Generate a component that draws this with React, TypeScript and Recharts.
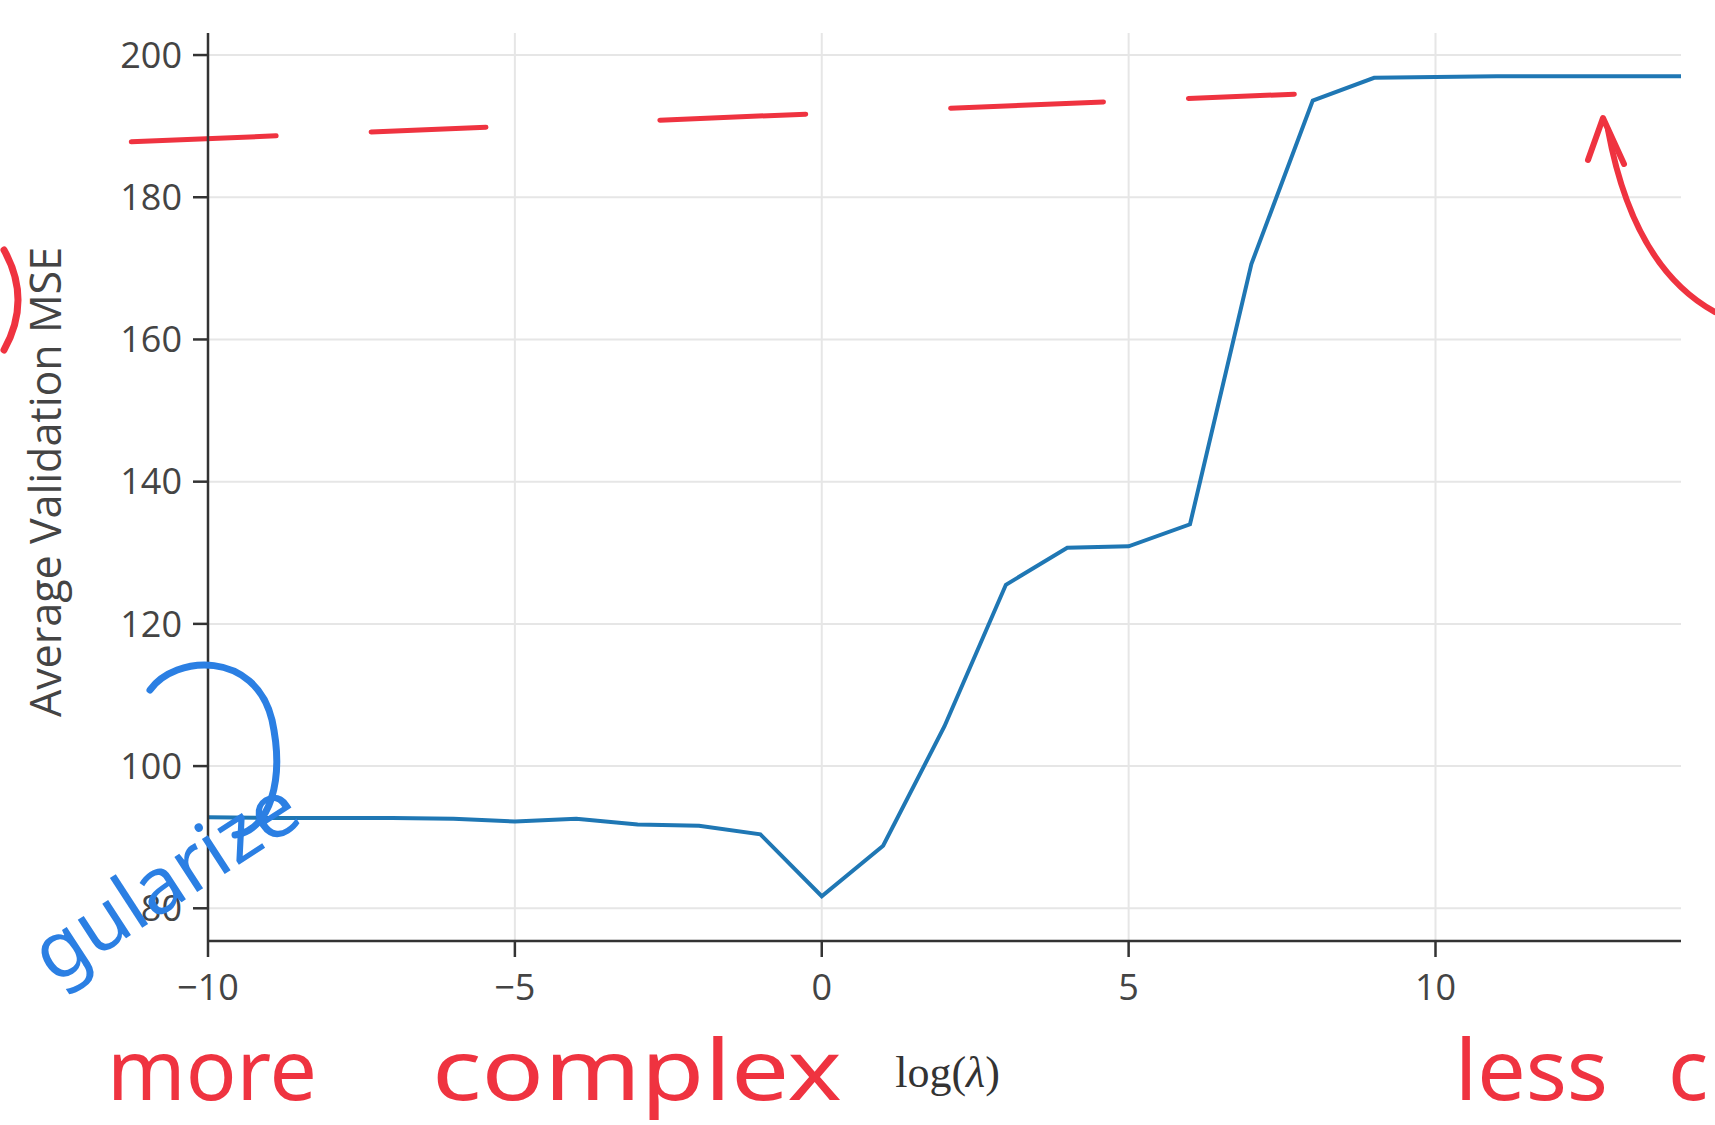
import React from "react";
import { LineChart, Line, XAxis, YAxis, CartesianGrid, ReferenceLine } from "recharts";

// log(lambda) grid used for the ridge sweep
const logLambda = [-10, -9, -8, -7, -6, -5, -4, -3, -2, -1, 0, 1, 2, 3, 4, 5, 6, 7, 8, 9, 10, 11, 12, 13, 14];
const avgValidationMse = [
  92.8, 92.7, 92.7, 92.7, 92.6, 92.2, 92.6, 91.8, 91.6, 90.4, 81.7, 88.8, 105.6,
  125.5, 130.7, 130.9, 134.0, 170.6, 193.6, 196.8, 196.9, 197.0, 197.0, 197.0, 197.0,
];
const xTicks = [-10, -5, 0, 5, 10];
const yTicks = [80, 100, 120, 140, 160, 180, 200];
const xDomain = [-10, 14];
const yDomain = [75.4, 203.1];

// hand-drawn red dashes pointing at the plateau
const plateauGuide = [
  { x: -11.25, y: 187.8 },
  { x: 7.7, y: 194.5 },
];

const data = logLambda.map((x, i) => ({ x, mse: avgValidationMse[i] }));

const tickStyle = { fill: "#444", fontSize: 36, fontFamily: "'Open Sans', sans-serif" };
const minus = (v: number) => String(v).replace("-", "\u2212");

const YTitle = (props: any) => {
  const vb = props.viewBox;
  const cx = vb.x - 14;
  const cy = vb.y + vb.height / 2 - 5;
  return (
    <text
      x={cx}
      y={cy}
      transform={`rotate(-90, ${cx}, ${cy})`}
      textAnchor="middle"
      dominantBaseline="central"
      fill="#444"
      fontSize={43}
      fontFamily="'Open Sans', sans-serif"
    >
      Average Validation MSE
    </text>
  );
};

const XTitle = (props: any) => {
  const vb = props.viewBox;
  return (
    <text
      x={vb.x + vb.width / 2 + 3}
      y={vb.y + 146}
      textAnchor="middle"
      fill="#333"
      fontSize={44}
      fontFamily="'Liberation Serif', serif"
    >
      log(<tspan fontStyle="italic">λ</tspan>)
    </text>
  );
};

const red = "#ef3340";
const blue = "#2b7fe3";
const hand = "'Noto Sans', sans-serif";
const handSize = 84;
const handBase = 1100;

export default function App() {
  return (
    <div style={{ position: "absolute", left: 0, top: 0, width: 1715, height: 1125, background: "#fff", overflow: "hidden" }}>
      <LineChart width={1715} height={1125} data={data} margin={{ top: 33, right: 34, bottom: 84, left: 58 }}>
        <CartesianGrid stroke="#e6e6e6" strokeWidth={2} horizontalValues={yTicks} verticalValues={xTicks} />
        <XAxis
          dataKey="x"
          type="number"
          domain={xDomain}
          ticks={xTicks}
          tickFormatter={minus}
          allowDataOverflow
          height={100}
          tick={tickStyle}
          tickSize={16}
          tickMargin={17}
          axisLine={{ stroke: "#333", strokeWidth: 2.5 }}
          tickLine={{ stroke: "#333", strokeWidth: 2.5 }}
          label={<XTitle />}
        />
        <YAxis
          type="number"
          domain={yDomain}
          ticks={yTicks}
          allowDataOverflow
          width={150}
          tick={tickStyle}
          tickSize={15}
          tickMargin={11}
          axisLine={{ stroke: "#333", strokeWidth: 2.5 }}
          tickLine={{ stroke: "#333", strokeWidth: 2.5 }}
          label={<YTitle />}
        />
        <ReferenceLine
          segment={plateauGuide}
          ifOverflow="visible"
          stroke={red}
          strokeWidth={5}
          strokeLinecap="round"
          strokeDasharray="145 95 115 174 146 145 153 85 115"
        />
        <Line
          type="linear"
          dataKey="mse"
          stroke="#1f77b4"
          strokeWidth={4}
          dot={false}
          isAnimationActive={false}
        />
      </LineChart>
      <svg
        width={1715}
        height={1125}
        style={{ position: "absolute", left: 0, top: 0, pointerEvents: "none" }}
      >
        <text x={107} y={handBase} fill={red} fontSize={handSize} fontFamily={hand} textLength={210} lengthAdjust="spacingAndGlyphs">
          more
        </text>
        <text x={432} y={handBase} fill={red} fontSize={handSize} fontFamily={hand} textLength={410} lengthAdjust="spacingAndGlyphs">
          complex
        </text>
        <text x={1455} y={handBase} fill={red} fontSize={handSize} fontFamily={hand} textLength={153} lengthAdjust="spacingAndGlyphs">
          less
        </text>
        <text x={1668} y={handBase} fill={red} fontSize={handSize} fontFamily={hand}>
          c
        </text>
        <text
          x={54}
          y={985}
          fill={blue}
          fontSize={78}
          fontFamily={hand}
          transform="rotate(-33, 54, 985)"
          textLength={300}
          lengthAdjust="spacingAndGlyphs"
        >
          gularize
        </text>
        <path d="M 150 690 C 175 655, 255 650, 272 720 C 285 780, 270 830, 235 835" fill="none" stroke={blue} strokeWidth={7} strokeLinecap="round" />
        <path d="M 4 250 Q 32 300 4 350" fill="none" stroke={red} strokeWidth={7} strokeLinecap="round" />
        <path d="M 1715 312 C 1660 282, 1625 222, 1608 130" fill="none" stroke={red} strokeWidth={6} strokeLinecap="round" />
        <path d="M 1588 160 L 1603 118 L 1624 164" fill="none" stroke={red} strokeWidth={6} strokeLinecap="round" strokeLinejoin="round" />
      </svg>
    </div>
  );
}
